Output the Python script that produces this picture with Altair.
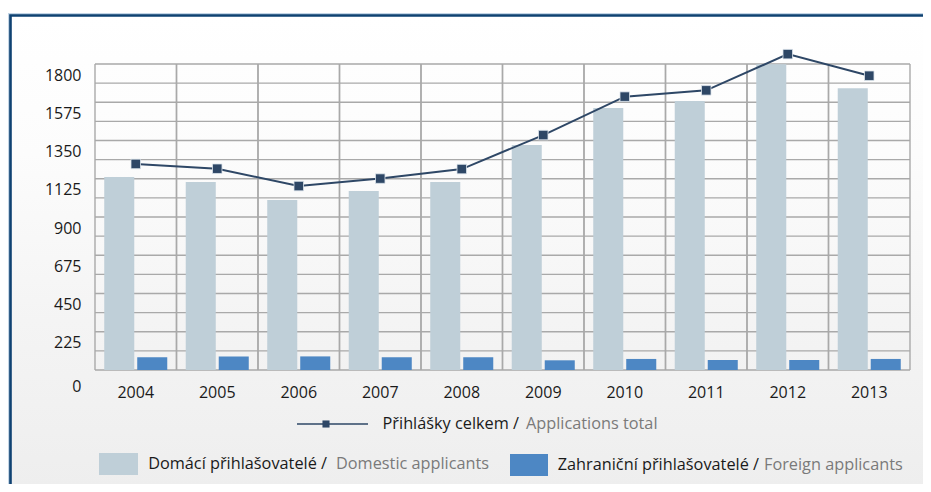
import altair as alt
import pandas as pd

years = ["2004", "2005", "2006", "2007", "2008", "2009", "2010", "2011", "2012", "2013"]
domestic = [1135, 1106, 1000, 1053, 1106, 1323, 1541, 1582, 1799, 1657]
foreign = [75, 80, 80, 75, 75, 57, 65, 59, 59, 65]
total = [1212, 1184, 1082, 1126, 1182, 1382, 1608, 1645, 1858, 1731]

y_ticks = [0, 225, 450, 675, 900, 1125, 1350, 1575, 1800]
y_grid = [0, 112.5, 225, 337.5, 450, 562.5, 675, 787.5, 900, 1012.5, 1125,
          1237.5, 1350, 1462.5, 1575, 1687.5, 1800]

series_cz = ["Domácí přihlašovatelé", "Zahraniční přihlašovatelé"]
series_en = ["Domestic applicants", "Foreign applicants"]
line_cz = "Přihlášky celkem"
line_en = "Applications total"
bar_colors = ["#bfcfd8", "#4d87c4"]
line_color = "#2e4766"
grid_color = "#a9a9a9"
FONT = "Open Sans"

W, H = 815, 306

bars_df = pd.DataFrame({
    "year": years * 2,
    "series": [series_cz[0]] * len(years) + [series_cz[1]] * len(years),
    "value": domestic + foreign,
})
total_df = pd.DataFrame({"year": years, "total": total})
grid_df = pd.DataFrame({"v": y_grid})
years_df = pd.DataFrame({"year": years})
one = pd.DataFrame({"a": [0]})

xscale = alt.Scale(domain=years, paddingInner=0, paddingOuter=0)
yscale = alt.Scale(domain=[0, 1800], nice=False, zero=True)

xaxis = alt.Axis(grid=False, domain=False, ticks=False, tickSize=0, labelAngle=0,
                 labelFont=FONT, labelFontSize=16, labelColor="#1a1a1a",
                 labelPadding=14, title=None, zindex=2)
yaxis = alt.Axis(values=y_ticks, format="d", grid=False, domain=False, ticks=False, tickSize=0,
                 labelFont=FONT, labelFontSize=16, labelColor="#1a1a1a",
                 labelPadding=14, title=None, zindex=2,
                 labelOffset={"condition": {"test": "datum.value == 0", "value": 16},
                              "value": 11})

frame_fill = {
    "gradient": "linear", "x1": 0, "y1": 0, "x2": 0, "y2": 1,
    "stops": [
        {"offset": 0, "color": "#ffffff"},
        {"offset": 0.25, "color": "#fcfcfc"},
        {"offset": 0.55, "color": "#f4f4f4"},
        {"offset": 0.85, "color": "#eeeeee"},
        {"offset": 1, "color": "#ebebeb"},
    ],
}

halo = alt.Chart(one).mark_rect(fill=None, stroke="#c3d5e6", strokeWidth=5).encode(
    x=alt.value(-84.5), x2=alt.value(W + 100), y=alt.value(-48.5), y2=alt.value(H + 200)
)
frame = alt.Chart(one).mark_rect(fill=frame_fill, stroke="#0f4272", strokeWidth=2.6).encode(
    x=alt.value(-84.5), x2=alt.value(W + 100), y=alt.value(-48.5), y2=alt.value(H + 200)
)

hgrid = alt.Chart(grid_df).mark_rule(color=grid_color, strokeWidth=1.4).encode(
    y=alt.Y("v:Q", scale=yscale, axis=yaxis)
)
vgrid0 = alt.Chart(years_df).mark_rule(color=grid_color, strokeWidth=1.4).encode(
    x=alt.X("year:O", scale=xscale, bandPosition=0, axis=xaxis)
)
vgrid1 = alt.Chart(years_df).mark_rule(color=grid_color, strokeWidth=1.4).encode(
    x=alt.X("year:O", scale=xscale, bandPosition=1, axis=xaxis)
)

bars = alt.Chart(bars_df).mark_bar().encode(
    x=alt.X("year:O", scale=xscale, axis=xaxis),
    xOffset=alt.XOffset("series:N", scale=alt.Scale(domain=series_cz, paddingInner=0.09,
                                                     paddingOuter=0.28)),
    y=alt.Y("value:Q", scale=yscale, axis=yaxis),
    color=alt.Color("series:N", scale=alt.Scale(domain=series_cz, range=bar_colors), legend=None),
)

line = alt.Chart(total_df).mark_line(color=line_color, strokeWidth=2).encode(
    x=alt.X("year:O", scale=xscale, axis=xaxis),
    y=alt.Y("total:Q", scale=yscale, axis=yaxis),
)
points = alt.Chart(total_df).mark_square(size=90, color=line_color, opacity=1,
                                         stroke="#dce4ec", strokeWidth=0.8).encode(
    x=alt.X("year:O", scale=xscale, axis=xaxis),
    y=alt.Y("total:Q", scale=yscale, axis=yaxis),
)

# legend
LFS = 16.3
def txt(s, x, y, color, align):
    return alt.Chart(one).mark_text(align=align, baseline="middle", font=FONT, fontSize=LFS,
                                    color=color).encode(
        x=alt.value(x), y=alt.value(y), text=alt.value(s))

leg_line = alt.Chart(one).mark_rule(color=line_color, strokeWidth=1.6).encode(
    x=alt.value(202), x2=alt.value(273), y=alt.value(360))
leg_sq = alt.Chart(one).mark_square(size=50, color=line_color, opacity=1).encode(
    x=alt.value(231), y=alt.value(360))
leg_dom = alt.Chart(one).mark_rect(color=bar_colors[0]).encode(
    x=alt.value(4), x2=alt.value(43), y=alt.value(389), y2=alt.value(411))
leg_for = alt.Chart(one).mark_rect(color=bar_colors[1]).encode(
    x=alt.value(415), x2=alt.value(453), y=alt.value(390), y2=alt.value(412))

legend = [
    leg_line, leg_sq,
    txt(line_cz + " /", 424, 360, "#1a1a1a", "right"),
    txt(line_en, 431, 360, "#7a7a7a", "left"),
    leg_dom,
    txt(series_cz[0] + " /", 232, 400, "#1a1a1a", "right"),
    txt(series_en[0], 241, 400, "#7a7a7a", "left"),
    leg_for,
    txt(series_cz[1] + " /", 664, 401, "#1a1a1a", "right"),
    txt(series_en[1], 669, 401, "#7a7a7a", "left"),
]

chart = alt.layer(halo, frame, hgrid, vgrid0, vgrid1, bars, line, points, *legend).properties(
    width=W, height=H,
    autosize=alt.AutoSizeParams(type="none"),
    padding={"left": 87, "top": 56, "right": 13, "bottom": 114},
    background="#ffffff",
).configure_view(stroke=None)

chart.save("out.html", embed_options={"renderer": "svg", "actions": False})
